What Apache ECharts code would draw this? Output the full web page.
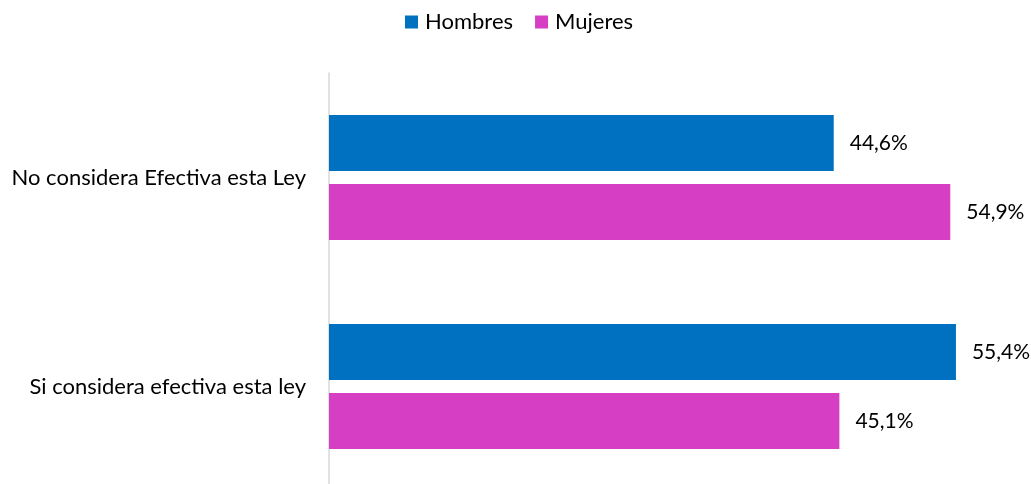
<!DOCTYPE html>
<html>
<head>
<meta charset="utf-8">
<script src="https://cdn.jsdelivr.net/npm/echarts@6/dist/echarts.min.js"></script>
<style>
  html, body { margin: 0; padding: 0; background: #fff; }
  #chart { width: 1031px; height: 484px; }
</style>
</head>
<body>
<div id="chart"></div>
<script>
// categories, top to bottom
const categories = ['No considera Efectiva esta Ley', 'Si considera efectiva esta ley']
const hombres = [44.6, 55.4]
const mujeres = [54.9, 45.1]

const font = 'Lato'
const chart = echarts.init(document.getElementById('chart'))

// etiqueta con coma decimal
const fmt = p => p.value.toFixed(1).replace('.', ',') + '%'

const option = {
  backgroundColor: '#fff',
  animation: false,
  legend: {
    top: 6,
    left: 400,
    icon: 'rect',
    itemWidth: 13,
    itemHeight: 13,
    itemGap: 22,
    itemStyle: { borderWidth: 0 },
    textStyle: { fontFamily: font, fontSize: 22, color: '#000', padding: [0, 0, 0, 2] },
    data: ['Hombres', 'Mujeres']
  },
  grid: { left: 329, right: 23, top: 73, height: 418, outerBoundsMode: 'none' },
  xAxis: {
    type: 'value',
    min: 0,
    max: 60,
    show: false
  },
  yAxis: {
    type: 'category',
    inverse: true,
    data: categories,
    axisLine: { lineStyle: { color: '#d9d9d9', width: 1.5 } },
    axisTick: { show: false },
    axisLabel: { fontFamily: font, fontSize: 22, color: '#000', margin: 23 }
  },
  series: [
    {
      name: 'Hombres',
      type: 'bar',
      data: hombres,
      barWidth: 56,
      barGap: '23%',
      itemStyle: { color: '#0070c0' },
      label: { show: true, position: 'right', distance: 16, formatter: fmt, fontFamily: font, fontSize: 21, color: '#000' }
    },
    {
      name: 'Mujeres',
      type: 'bar',
      data: mujeres,
      barWidth: 56,
      barGap: '23%',
      itemStyle: { color: '#d63ec4' },
      label: { show: true, position: 'right', distance: 16, formatter: fmt, fontFamily: font, fontSize: 21, color: '#000' }
    }
  ]
}
chart.setOption(option)
</script>
</body>
</html>
